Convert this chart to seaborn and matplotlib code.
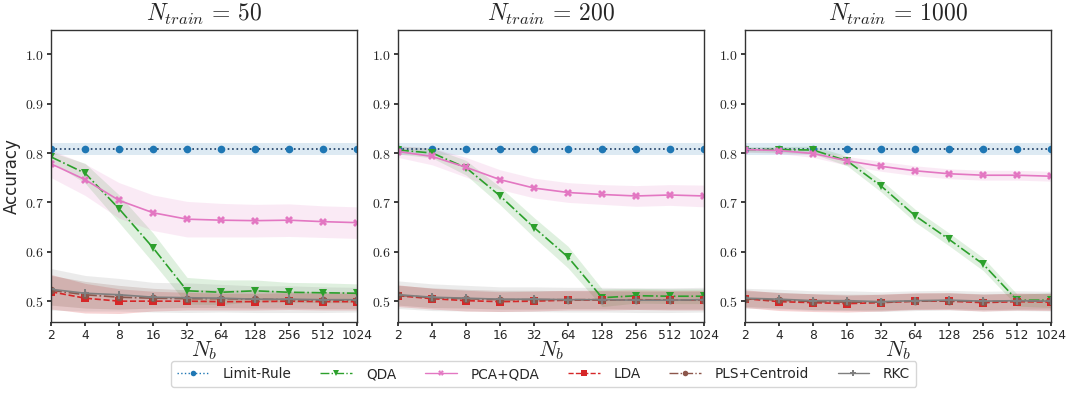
import numpy as np
import pandas as pd
import matplotlib
matplotlib.use("Agg")
import matplotlib.pyplot as plt
import seaborn as sns
from matplotlib.lines import Line2D
from matplotlib.ticker import FixedLocator, FuncFormatter

# ---- data -------------------------------------------------------------
n_b_labels = ["2", "4", "8", "16", "32", "64", "128", "256", "512", "1024"]
n_train = [50, 200, 1000]
methods = ["Limit-Rule", "QDA", "PCA+QDA", "LDA", "PLS+Centroid", "RKC"]

# mean accuracy per training-set size (one row per N_train)
limit_acc = [
    [0.808] * 10,
    [0.808] * 10,
    [0.808] * 10,
]
qda_acc = [
    [0.792, 0.759, 0.687, 0.608, 0.521, 0.518, 0.521, 0.518, 0.517, 0.516],
    [0.806, 0.800, 0.770, 0.713, 0.649, 0.589, 0.507, 0.511, 0.510, 0.510],
    [0.807, 0.807, 0.806, 0.784, 0.733, 0.673, 0.625, 0.575, 0.502, 0.502],
]
pca_qda_acc = [
    [0.778, 0.746, 0.704, 0.679, 0.666, 0.664, 0.663, 0.664, 0.661, 0.659],
    [0.803, 0.793, 0.771, 0.746, 0.729, 0.720, 0.716, 0.713, 0.715, 0.713],
    [0.807, 0.805, 0.799, 0.784, 0.773, 0.764, 0.758, 0.755, 0.755, 0.753],
]
lda_acc = [
    [0.519, 0.506, 0.500, 0.500, 0.500, 0.499, 0.499, 0.500, 0.499, 0.499],
    [0.511, 0.505, 0.501, 0.499, 0.500, 0.502, 0.502, 0.503, 0.502, 0.502],
    [0.505, 0.499, 0.497, 0.495, 0.497, 0.500, 0.500, 0.497, 0.499, 0.498],
]
pls_acc = [
    [0.522, 0.513, 0.508, 0.506, 0.505, 0.505, 0.504, 0.503, 0.502, 0.502],
    [0.512, 0.507, 0.505, 0.503, 0.503, 0.503, 0.503, 0.502, 0.502, 0.502],
    [0.505, 0.502, 0.499, 0.498, 0.498, 0.500, 0.501, 0.499, 0.500, 0.500],
]
rkc_acc = [
    [0.524, 0.516, 0.513, 0.508, 0.507, 0.506, 0.504, 0.504, 0.503, 0.503],
    [0.513, 0.508, 0.506, 0.504, 0.504, 0.503, 0.503, 0.502, 0.502, 0.503],
    [0.506, 0.504, 0.501, 0.501, 0.499, 0.501, 0.502, 0.500, 0.501, 0.500],
]

# half-width of the shaded spread around each mean
limit_spread = [
    [0.012] * 10,
    [0.012] * 10,
    [0.012] * 10,
]
qda_spread = [
    [0.010, 0.020, 0.028, 0.030, 0.027, 0.025, 0.022, 0.020, 0.020, 0.019],
    [0.008, 0.010, 0.015, 0.018, 0.020, 0.022, 0.018, 0.015, 0.015, 0.015],
    [0.005, 0.006, 0.008, 0.010, 0.012, 0.013, 0.013, 0.013, 0.012, 0.015],
]
pca_qda_spread = [
    [0.028, 0.032, 0.036, 0.036, 0.036, 0.034, 0.033, 0.033, 0.032, 0.032],
    [0.012, 0.017, 0.020, 0.020, 0.020, 0.020, 0.020, 0.021, 0.021, 0.022],
    [0.005, 0.006, 0.008, 0.009, 0.010, 0.010, 0.010, 0.010, 0.010, 0.010],
]
lda_spread = [
    [0.035, 0.030, 0.025, 0.020, 0.018, 0.017, 0.017, 0.017, 0.017, 0.017],
    [0.022, 0.021, 0.021, 0.020, 0.020, 0.020, 0.020, 0.020, 0.020, 0.020],
    [0.018, 0.018, 0.018, 0.017, 0.017, 0.017, 0.017, 0.017, 0.017, 0.017],
]
pls_spread = [
    [0.030, 0.027, 0.024, 0.020, 0.018, 0.018, 0.018, 0.017, 0.017, 0.017],
    [0.020, 0.020, 0.019, 0.019, 0.019, 0.018, 0.018, 0.018, 0.018, 0.018],
    [0.016, 0.016, 0.016, 0.016, 0.016, 0.016, 0.016, 0.016, 0.016, 0.016],
]
rkc_spread = [
    [0.042, 0.036, 0.033, 0.030, 0.030, 0.028, 0.027, 0.027, 0.026, 0.025],
    [0.028, 0.027, 0.026, 0.025, 0.025, 0.025, 0.025, 0.025, 0.025, 0.025],
    [0.020, 0.020, 0.020, 0.020, 0.020, 0.020, 0.020, 0.020, 0.020, 0.020],
]

acc_by_method = {
    "Limit-Rule": limit_acc, "QDA": qda_acc, "PCA+QDA": pca_qda_acc,
    "LDA": lda_acc, "PLS+Centroid": pls_acc, "RKC": rkc_acc,
}
spread_by_method = {
    "Limit-Rule": limit_spread, "QDA": qda_spread, "PCA+QDA": pca_qda_spread,
    "LDA": lda_spread, "PLS+Centroid": pls_spread, "RKC": rkc_spread,
}

# ---- styling ----------------------------------------------------------
palette = {
    "Limit-Rule": "#1f77b4", "QDA": "#2ca02c", "PCA+QDA": "#e377c2",
    "LDA": "#d62728", "PLS+Centroid": "#8c564b", "RKC": "#7f7f7f",
}
markers = {
    "Limit-Rule": "o", "QDA": "v", "PCA+QDA": "X",
    "LDA": "s", "PLS+Centroid": "o", "RKC": "P",
}
dashes = {
    "Limit-Rule": (1, 1.65), "QDA": (6.4, 1.6, 1, 1.6), "PCA+QDA": "",
    "LDA": (3.7, 1.6), "PLS+Centroid": (6.4, 1.6, 1, 1.6), "RKC": "",
}
band_alpha = {
    "Limit-Rule": 0.15, "QDA": 0.15, "PCA+QDA": 0.15,
    "LDA": 0.2, "PLS+Centroid": 0.2, "RKC": 0.15,
}

rows = []
for p, nt in enumerate(n_train):
    for m in methods:
        for i, lab in enumerate(n_b_labels):
            a = acc_by_method[m][p][i]
            s = spread_by_method[m][p][i]
            rows.append(dict(n_train=nt, method=m, pos=i, acc=a,
                             lo=a - s, hi=a + s))
df = pd.DataFrame(rows)

sns.set_theme(style="ticks")
plt.rcParams["font.family"] = ["DejaVu Sans"]
plt.rcParams["mathtext.fontset"] = "cm"

fig, axes = plt.subplots(1, 3, figsize=(10.66, 3.94), dpi=100)
fig.subplots_adjust(left=0.048, right=0.986, top=0.925, bottom=0.183,
                    wspace=0.135)

for p, (ax, nt) in enumerate(zip(axes, n_train)):
    sub = df[df["n_train"] == nt]
    for m in methods:
        d = sub[sub["method"] == m]
        ax.fill_between(d["pos"], d["lo"], d["hi"], color=palette[m],
                        alpha=band_alpha[m], linewidth=0)
    sns.lineplot(data=sub, x="pos", y="acc", hue="method", style="method",
                 hue_order=methods, style_order=methods, palette=palette,
                 markers=markers, dashes=dashes, errorbar=None, ax=ax,
                 linewidth=1.2, markersize=5.5, markeredgewidth=0,
                 legend=False)
    # dotted reference line drawn darker than its markers
    ax.lines[0].set_color("#1b3b63")
    ax.lines[0].set_markerfacecolor(palette["Limit-Rule"])
    ax.lines[0].set_markeredgecolor(palette["Limit-Rule"])

    ax.set_xlim(0, len(n_b_labels) - 1)
    ax.set_ylim(0.458, 1.05)
    ax.xaxis.set_major_locator(FixedLocator(range(len(n_b_labels))))
    ax.set_xticklabels(n_b_labels)
    ax.yaxis.set_major_locator(FixedLocator([0.5, 0.6, 0.7, 0.8, 0.9, 1.0]))
    ax.yaxis.set_major_formatter(FuncFormatter(lambda v, _: f"${v:.1f}$"))
    ax.tick_params(axis="x", labelsize=8.8, length=3, pad=2)
    ax.tick_params(axis="y", labelsize=10, length=3, pad=2)
    ax.set_xlabel(r"$N_b$", fontsize=16, labelpad=-2)
    ax.set_ylabel("Accuracy" if p == 0 else "", fontsize=12, labelpad=3)
    ax.set_title(rf"$N_{{train}}\,=\,{nt}$", fontsize=17, pad=6)
    for sp in ax.spines.values():
        sp.set_color("#333333")
        sp.set_linewidth(1.0)

# legend keys with thin lines and small markers
handles = []
for m in methods:
    ls = "-" if dashes[m] == "" else (0, dashes[m])
    handles.append(Line2D([], [], color=palette[m], linestyle=ls,
                          linewidth=1.0, marker=markers[m], markersize=4,
                          markeredgewidth=0))
fig.legend(handles, methods, loc="lower center", bbox_to_anchor=(0.51, 0.0),
           ncol=6, fontsize=9.8, frameon=True, handlelength=2.35,
           handletextpad=1.0, columnspacing=2.1, borderpad=0.45,
           fancybox=True, edgecolor="#cccccc")

fig.savefig("out.png", dpi=100)
